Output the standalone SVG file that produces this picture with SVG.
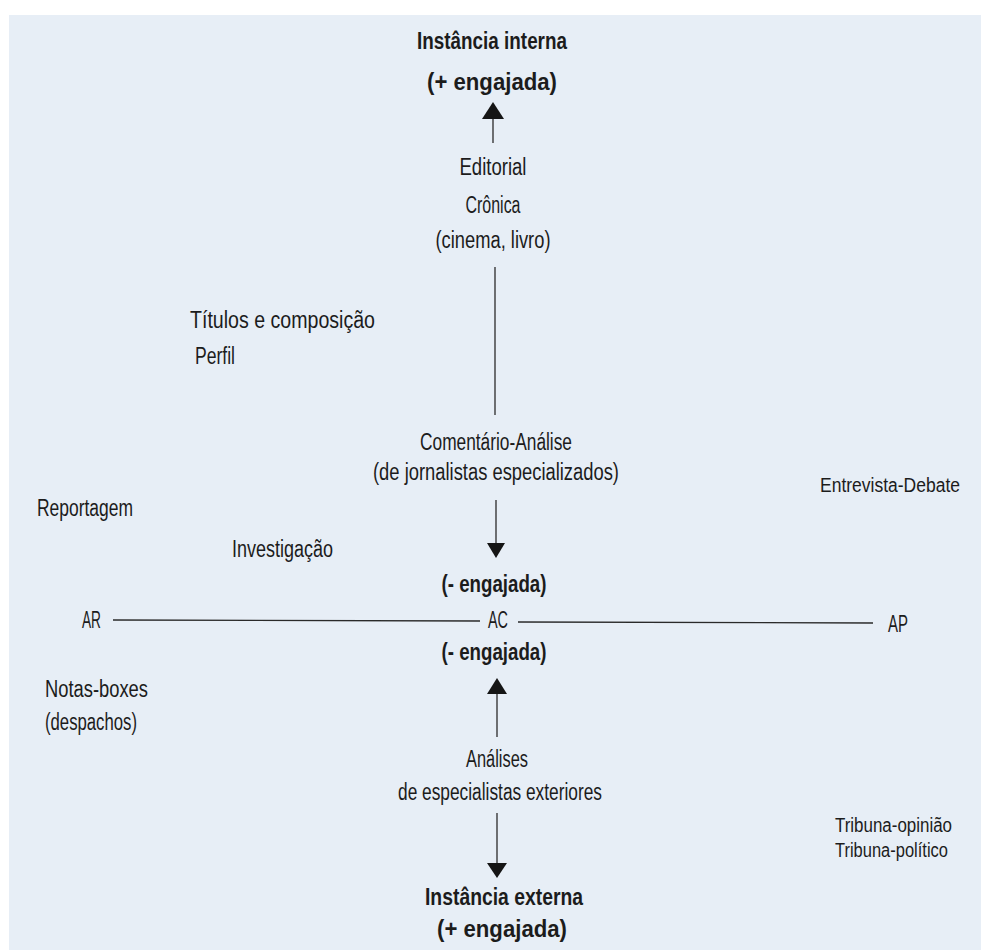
<svg xmlns="http://www.w3.org/2000/svg" width="981" height="950" viewBox="0 0 981 950">
<style>
text{font-family:"Liberation Sans","DejaVu Sans",sans-serif;font-size:23px;fill:#1c1c1c}
.c{text-anchor:middle}
.b{font-weight:bold}
.s{font-size:20px}
.ln{stroke:#2a2a2a;stroke-width:1.3;fill:none}
.ah{fill:#151515}
</style>
<rect x="0" y="0" width="981" height="950" fill="#ffffff"/>
<rect x="9" y="15" width="972" height="935" fill="#e7eef6"/>
<g id="connectors">
<line class="ln" x1="493" y1="117" x2="493" y2="143"/>
<polygon class="ah" points="493,102 482,119 504,119"/>
<line class="ln" x1="495" y1="267" x2="495" y2="415"/>
<line class="ln" x1="496" y1="500" x2="496" y2="545"/>
<polygon class="ah" points="487,543 505,543 496,558"/>
<line class="ln" x1="113" y1="620" x2="480" y2="621"/>
<line class="ln" x1="518" y1="622" x2="873" y2="623"/>
<line class="ln" x1="497" y1="692" x2="497" y2="737"/>
<polygon class="ah" points="497,678 487,694 507,694"/>
<line class="ln" x1="497" y1="813" x2="497" y2="865"/>
<polygon class="ah" points="487,863 507,863 497,878"/>
</g>
<g id="instancia-interna">
<text class="c b" x="492" y="49" textLength="150" lengthAdjust="spacingAndGlyphs">Instância interna</text>
<text class="c b" x="492" y="90" textLength="130" lengthAdjust="spacingAndGlyphs">(+ engajada)</text>
</g>
<g id="editorial">
<text class="c" x="493" y="175" textLength="67" lengthAdjust="spacingAndGlyphs">Editorial</text>
<text class="c" x="493" y="213" textLength="55" lengthAdjust="spacingAndGlyphs">Crônica</text>
<text class="c" x="493" y="248" textLength="115" lengthAdjust="spacingAndGlyphs">(cinema, livro)</text>
</g>
<g id="titulos">
<text x="190" y="328" textLength="185" lengthAdjust="spacingAndGlyphs">Títulos e composição</text>
<text x="195" y="364" textLength="40" lengthAdjust="spacingAndGlyphs">Perfil</text>
</g>
<g id="comentario">
<text class="c" x="496" y="450" textLength="152" lengthAdjust="spacingAndGlyphs">Comentário-Análise</text>
<text class="c" x="496" y="480" textLength="246" lengthAdjust="spacingAndGlyphs">(de jornalistas especializados)</text>
</g>
<g id="entrevista">
<text class="s" x="820" y="492" textLength="140" lengthAdjust="spacingAndGlyphs">Entrevista-Debate</text>
</g>
<g id="reportagem">
<text x="37" y="516" textLength="96" lengthAdjust="spacingAndGlyphs">Reportagem</text>
</g>
<g id="investigacao">
<text x="232" y="557" textLength="101" lengthAdjust="spacingAndGlyphs">Investigação</text>
</g>
<g id="menos-engajada-sup">
<text class="c b" x="494" y="592" textLength="105" lengthAdjust="spacingAndGlyphs">(- engajada)</text>
</g>
<g id="AR">
<text x="82" y="628" textLength="19" lengthAdjust="spacingAndGlyphs">AR</text>
</g>
<g id="AC">
<text class="c" x="498" y="628" textLength="20" lengthAdjust="spacingAndGlyphs">AC</text>
</g>
<g id="AP">
<text x="888" y="632" textLength="20" lengthAdjust="spacingAndGlyphs">AP</text>
</g>
<g id="menos-engajada-inf">
<text class="c b" x="494" y="660" textLength="105" lengthAdjust="spacingAndGlyphs">(- engajada)</text>
</g>
<g id="notas">
<text x="45" y="697" textLength="103" lengthAdjust="spacingAndGlyphs">Notas-boxes</text>
<text x="45" y="730" textLength="92" lengthAdjust="spacingAndGlyphs">(despachos)</text>
</g>
<g id="analises">
<text class="c" x="497" y="767" textLength="62" lengthAdjust="spacingAndGlyphs">Análises</text>
<text class="c" x="500" y="800" textLength="204" lengthAdjust="spacingAndGlyphs">de especialistas exteriores</text>
</g>
<g id="tribuna">
<text class="s" x="835" y="832" textLength="117" lengthAdjust="spacingAndGlyphs">Tribuna-opinião</text>
<text class="s" x="835" y="857" textLength="113" lengthAdjust="spacingAndGlyphs">Tribuna-político</text>
</g>
<g id="instancia-externa">
<text class="c b" x="504" y="905" textLength="158" lengthAdjust="spacingAndGlyphs">Instância externa</text>
<text class="c b" x="502" y="937" textLength="130" lengthAdjust="spacingAndGlyphs">(+ engajada)</text>
</g>
</svg>
